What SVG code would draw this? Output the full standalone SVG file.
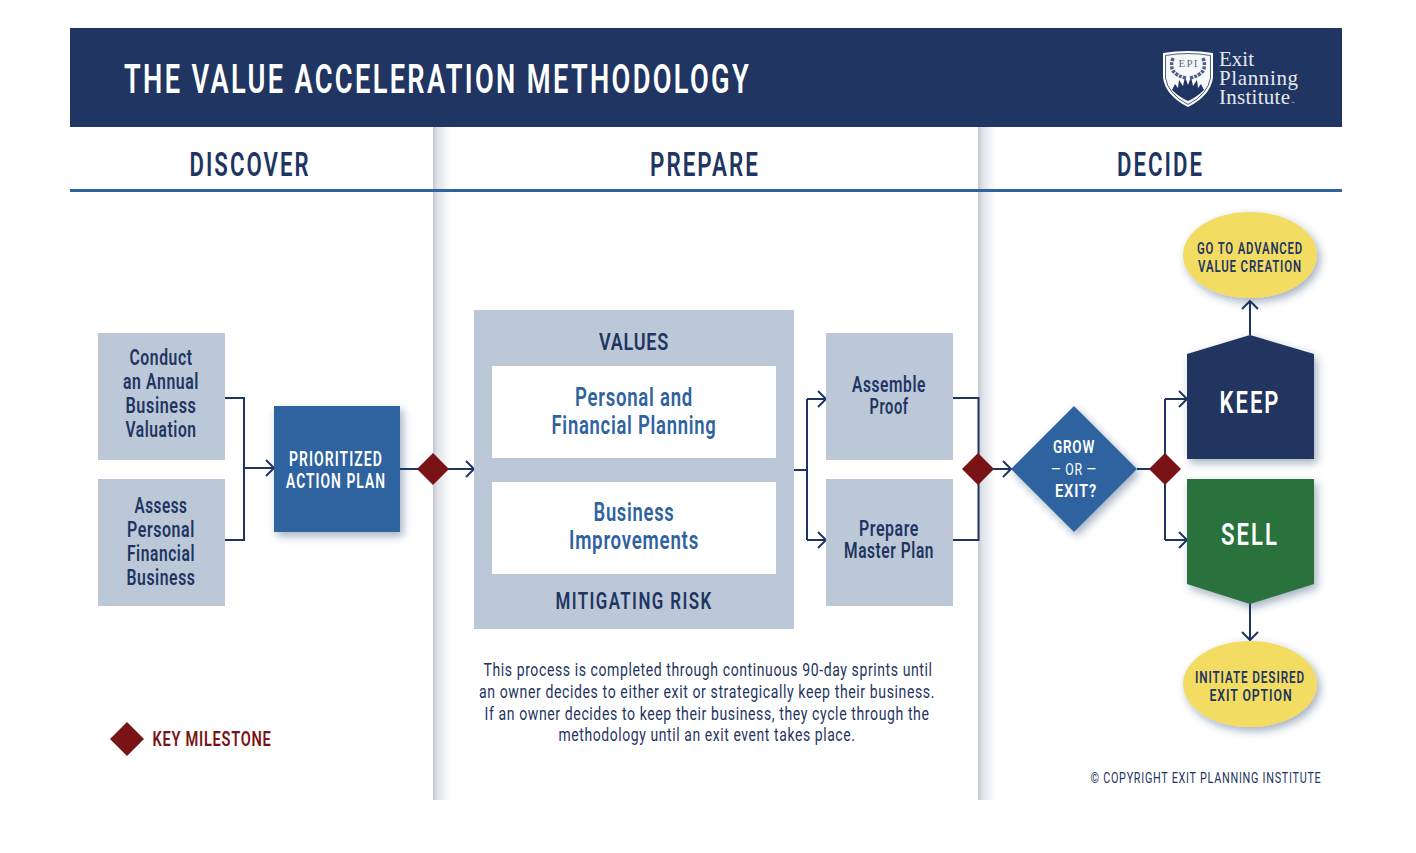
<svg xmlns="http://www.w3.org/2000/svg" width="1416" height="853" viewBox="0 0 1416 853">
<style>
text{font-family:"Roboto","Liberation Sans",sans-serif;text-anchor:middle;font-weight:600}
.h{fill:#1f3561;font-size:33px;letter-spacing:3px}
.n{fill:#1f3561;font-size:22px;letter-spacing:.8px}
.w{fill:#fff}
.l{fill:none;stroke:#1f3561;stroke-width:2}
.d{fill:#7a1315}
.g{fill:#bcc8d8}
.body{font-weight:400;fill:#1f3561;font-size:19px;letter-spacing:.8px}
.y{fill:#f2dc62;filter:url(#s)}
.yt{fill:#1f3561;font-size:16px;letter-spacing:1.2px}
.c{letter-spacing:2px}
.p{letter-spacing:1px}
.sf{font-family:"Liberation Serif",serif;font-weight:400;text-anchor:start;fill:#e4e8ef;font-size:21px}
</style>
<defs>
<filter id="s" x="-20%" y="-20%" width="150%" height="150%"><feDropShadow dx="3" dy="4" stdDeviation="4" flood-color="#1f3561" flood-opacity=".4"/></filter>
<linearGradient id="col"><stop offset="0" stop-color="#c3c8d3"/><stop offset=".25" stop-color="#dfe2e8"/><stop offset="1" stop-color="#fff"/></linearGradient>
<marker id="a" markerUnits="userSpaceOnUse" markerWidth="14" markerHeight="20" refX="12" refY="10" orient="auto"><path d="M4 2 L12 10 L4 18" fill="none" stroke="#1f3561" stroke-width="2"/></marker>
</defs>
<rect width="1416" height="853" fill="#fff"/>
<rect x="433" y="127" width="18" height="673" fill="url(#col)"/>
<rect x="978" y="127" width="18" height="673" fill="url(#col)"/>
<g id="header"><rect x="70" y="28" width="1272" height="99" fill="#203561"/>
<text class="w c" style="letter-spacing:3.500px" x="437.500" y="93" font-size="41" textLength="627" lengthAdjust="spacingAndGlyphs">THE VALUE ACCELERATION METHODOLOGY</text></g>
<g id="logo">
<path d="M1163 53 Q1188 49 1213 53 L1213 78 Q1210 96 1188 107 Q1166 96 1163 78 Z" fill="#fff"/>
<path d="M1165.500 55.500 Q1188 51.500 1210.500 55.500 L1210.500 78 Q1208 94 1188 104.500 Q1168 94 1165.500 78 Z" fill="#f6f7f9" stroke="#203561" stroke-width=".8"/>
<path d="M1172 90 L1175 84 L1178 88 L1179 80 L1183 86 L1185 77 L1188 85 L1191 77 L1193 86 L1197 80 L1198 88 L1201 84 L1204 90 Q1197 97 1188 101 Q1179 97 1172 90Z" fill="#203561"/>
<path d="M1173 58 Q1167 74 1186 78 M1203 58 Q1209 74 1190 78" fill="none" stroke="#4d6088" stroke-width="3.500" stroke-dasharray="3 1.200"/>
<text x="1188" y="67" style="font-family:'Liberation Serif',serif;font-weight:400" font-size="11" fill="#5a6b90" textLength="19">EPI</text>
<text x="1219" y="66" class="sf" textLength="35">Exit</text>
<text x="1219" y="85" class="sf" textLength="79">Planning</text>
<text x="1219" y="104" class="sf" textLength="71">Institute</text>
<text x="1293" y="105" font-size="5" fill="#e4e8ef" style="font-weight:400">™</text>
</g>
<g id="phases">
<text class="h" x="250" y="176" textLength="121" lengthAdjust="spacingAndGlyphs">DISCOVER</text>
<text class="h" x="705" y="176" textLength="110" lengthAdjust="spacingAndGlyphs">PREPARE</text>
<text class="h" x="1160.500" y="176" textLength="87" lengthAdjust="spacingAndGlyphs">DECIDE</text>
<rect x="70" y="189" width="1272" height="3" fill="#2f639f"/>
</g>
<g id="connectors">
<path class="l" d="M225 398H244V540H225"/>
<path class="l" d="M244 468H274" marker-end="url(#a)"/>
<path class="l" d="M400 469H474" marker-end="url(#a)"/>
<path class="l" d="M794 470H807"/>
<path class="l" d="M807 399V540"/>
<path class="l" d="M807 399H826" marker-end="url(#a)"/>
<path class="l" d="M807 540H826" marker-end="url(#a)"/>
<path class="l" d="M952 398H978.500V540H952"/>
<path class="l" d="M978 469H1011" marker-end="url(#a)"/>
<path class="l" d="M1137 469H1165"/>
<path class="l" d="M1165 399V540"/>
<path class="l" d="M1165 399H1187" marker-end="url(#a)"/>
<path class="l" d="M1165 540H1187" marker-end="url(#a)"/>
<path class="l" d="M1250 335V301" marker-end="url(#a)"/>
<path class="l" d="M1250 603V640" marker-end="url(#a)"/>
</g>
<g id="n-valuation"><rect class="g" x="98" y="333" width="127" height="127"/>
<text class="n" x="161" y="365" textLength="63" lengthAdjust="spacingAndGlyphs">Conduct</text><text class="n" x="161" y="389" textLength="76" lengthAdjust="spacingAndGlyphs">an Annual</text><text class="n" x="161" y="413" textLength="71" lengthAdjust="spacingAndGlyphs">Business</text><text class="n" x="161" y="437" textLength="71" lengthAdjust="spacingAndGlyphs">Valuation</text></g>
<g id="n-personal"><rect class="g" x="98" y="479" width="127" height="127"/>
<text class="n" x="161" y="513" textLength="53" lengthAdjust="spacingAndGlyphs">Assess</text><text class="n" x="161" y="537" textLength="68" lengthAdjust="spacingAndGlyphs">Personal</text><text class="n" x="161" y="561" textLength="68" lengthAdjust="spacingAndGlyphs">Financial</text><text class="n" x="161" y="585" textLength="69" lengthAdjust="spacingAndGlyphs">Business</text></g>
<g id="n-plan"><rect x="274" y="406" width="126" height="126" fill="#2f639f" filter="url(#s)"/>
<text class="w p" style="letter-spacing:1.500px" x="336" y="466" font-size="20" textLength="94" lengthAdjust="spacingAndGlyphs">PRIORITIZED</text>
<text class="w p" style="letter-spacing:1.500px" x="336" y="488" font-size="20" textLength="100" lengthAdjust="spacingAndGlyphs">ACTION PLAN</text></g>
<g id="m1"><path class="d" d="M433 453L449 469L433 485L417 469Z"/></g>
<g id="n-values"><rect class="g" x="474" y="310" width="320" height="319"/>
<text class="p" x="634" y="350" fill="#1f3561" font-size="24" textLength="70" lengthAdjust="spacingAndGlyphs">VALUES</text>
<rect x="492" y="366" width="284" height="92" fill="#fff"/>
<text class="p" x="634" y="406" font-size="25" fill="#2f639f" textLength="118" lengthAdjust="spacingAndGlyphs">Personal and</text>
<text class="p" x="634" y="434" font-size="25" fill="#2f639f" textLength="165" lengthAdjust="spacingAndGlyphs">Financial Planning</text>
<rect x="492" y="482" width="284" height="92" fill="#fff"/>
<text class="p" x="634" y="521" font-size="25" fill="#2f639f" textLength="81" lengthAdjust="spacingAndGlyphs">Business</text>
<text class="p" x="634" y="549" font-size="25" fill="#2f639f" textLength="130" lengthAdjust="spacingAndGlyphs">Improvements</text>
<text class="c" x="634" y="609" fill="#1f3561" font-size="24" textLength="157" lengthAdjust="spacingAndGlyphs">MITIGATING RISK</text></g>
<g id="n-proof"><rect class="g" x="826" y="333" width="127" height="127"/>
<text class="n" x="889" y="392" textLength="74" lengthAdjust="spacingAndGlyphs">Assemble</text><text class="n" x="889" y="414" textLength="39" lengthAdjust="spacingAndGlyphs">Proof</text></g>
<g id="n-master"><rect class="g" x="826" y="479" width="127" height="127"/>
<text class="n" x="889" y="536" textLength="60" lengthAdjust="spacingAndGlyphs">Prepare</text><text class="n" x="889" y="558" textLength="90" lengthAdjust="spacingAndGlyphs">Master Plan</text></g>
<g id="note">
<text class="body" x="708" y="676" textLength="449" lengthAdjust="spacingAndGlyphs">This process is completed through continuous 90-day sprints until</text>
<text class="body" x="707" y="698" textLength="456" lengthAdjust="spacingAndGlyphs">an owner decides to either exit or strategically keep their business.</text>
<text class="body" x="707" y="720" textLength="445" lengthAdjust="spacingAndGlyphs">If an owner decides to keep their business, they cycle through the</text>
<text class="body" x="707" y="741" textLength="297" lengthAdjust="spacingAndGlyphs">methodology until an exit event takes place.</text></g>
<g id="m2"><path class="d" d="M978 453L994 469L978 485L962 469Z"/></g>
<g id="n-grow"><path d="M1074 406L1137 469L1074 532L1011 469Z" fill="#2f639f" filter="url(#s)"/>
<text class="w p" x="1074" y="453" font-size="18" textLength="42" lengthAdjust="spacingAndGlyphs">GROW</text>
<text class="w p" style="font-weight:400" x="1074" y="475" font-size="16" textLength="46" lengthAdjust="spacingAndGlyphs">— OR —</text>
<text class="w p" x="1076" y="497" font-size="18" textLength="42" lengthAdjust="spacingAndGlyphs">EXIT?</text></g>
<g id="m3"><path class="d" d="M1165 453L1181 469L1165 485L1149 469Z"/></g>
<g id="n-keep"><path d="M1187 354L1250 335L1314 354V459H1187Z" fill="#203561" filter="url(#s)"/>
<text class="w c" style="letter-spacing:3px" x="1250" y="413" font-size="32" textLength="61" lengthAdjust="spacingAndGlyphs">KEEP</text></g>
<g id="n-sell"><path d="M1187 479H1314V584L1250 604L1187 584Z" fill="#2b723d" filter="url(#s)"/>
<text class="w c" style="letter-spacing:3px" x="1250" y="545" font-size="32" textLength="58" lengthAdjust="spacingAndGlyphs">SELL</text></g>
<g id="n-advanced"><ellipse class="y" cx="1250" cy="255" rx="67" ry="43"/>
<text class="yt" x="1250" y="254" textLength="106" lengthAdjust="spacingAndGlyphs">GO TO ADVANCED</text>
<text class="yt" x="1250" y="272" textLength="104" lengthAdjust="spacingAndGlyphs">VALUE CREATION</text></g>
<g id="n-exit"><ellipse class="y" cx="1250" cy="684" rx="67" ry="43"/>
<text class="yt" x="1250" y="683" textLength="110" lengthAdjust="spacingAndGlyphs">INITIATE DESIRED</text>
<text class="yt" x="1251" y="701" textLength="83" lengthAdjust="spacingAndGlyphs">EXIT OPTION</text></g>
<g id="legend"><path class="d" d="M127 722L144 739L127 756L110 739Z"/>
<text class="p" x="212" y="746" font-size="20" fill="#7a1315" textLength="119" lengthAdjust="spacingAndGlyphs">KEY MILESTONE</text></g>
<text x="1206" y="783" font-size="15" fill="#1f3561" style="font-weight:400;letter-spacing:1px" textLength="231" lengthAdjust="spacingAndGlyphs">© COPYRIGHT EXIT PLANNING INSTITUTE</text>
</svg>
